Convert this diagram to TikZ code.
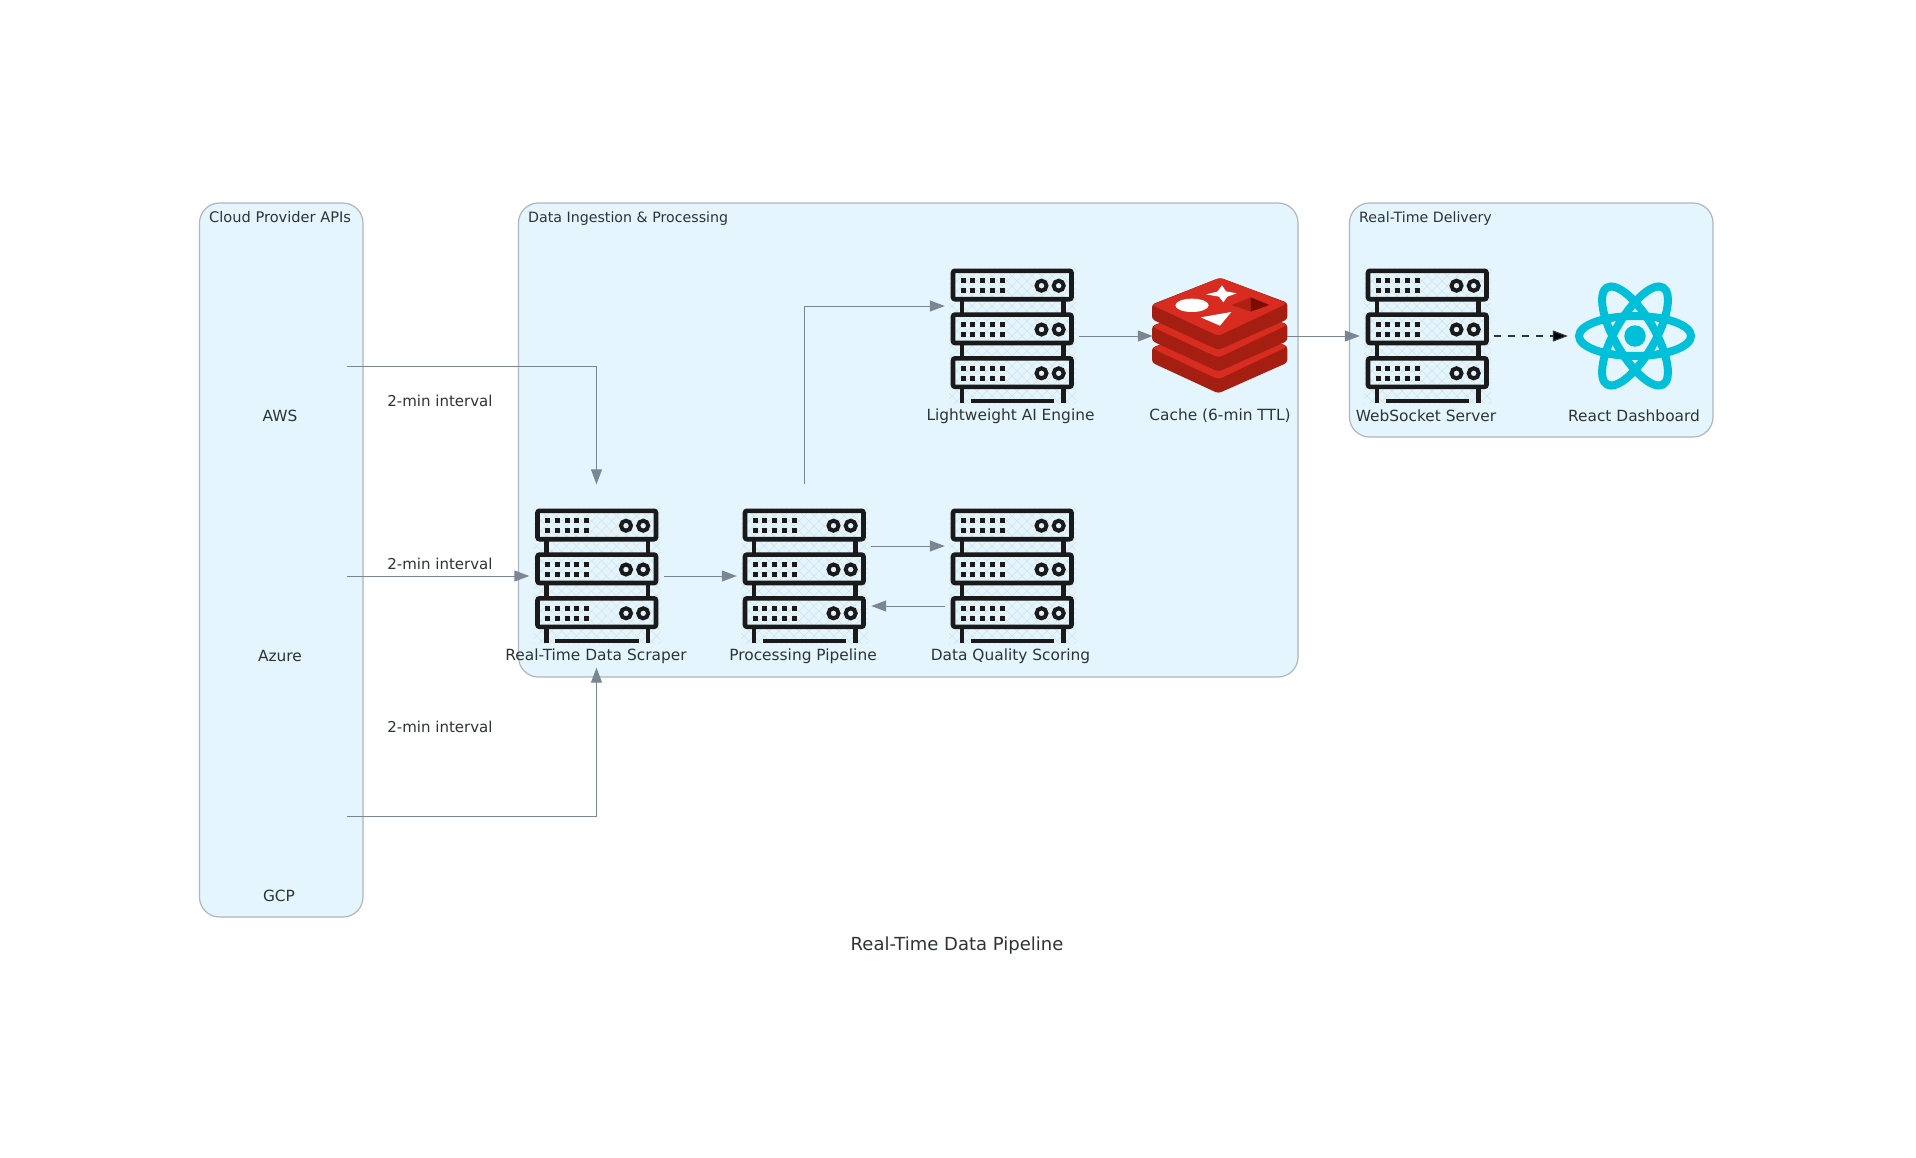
\documentclass[tikz,border=0pt]{standalone}
\usepackage{fontspec}
\setmainfont{DejaVu Sans}
\usetikzlibrary{arrows.meta,calc}
\definecolor{clusterfill}{HTML}{E5F5FD}
\definecolor{clusterline}{HTML}{AEB6BE}
\definecolor{edgecol}{HTML}{7B8694}
\definecolor{inkcol}{HTML}{2D3436}
\definecolor{iconink}{HTML}{1A1A1A}
\definecolor{hatchcol}{HTML}{D5E2EA}
\definecolor{redislight}{HTML}{D82C20}
\definecolor{redisdark}{HTML}{A41E11}
\definecolor{redismid}{HTML}{AD2115}
\definecolor{redisdeep}{HTML}{7A0C00}
\definecolor{reactcol}{HTML}{00BFD8}
\tikzset{
  x=1pt,y=-1pt,
  cluster/.style={draw=clusterline,fill=clusterfill,line width=1.2pt,rounded corners=20pt},
  clustertitle/.style={anchor=base west,inner sep=0pt,text=inkcol,font=\fontsize{14.2}{16}\selectfont},
  iconbox/.style={minimum width=134pt,minimum height=183pt,inner sep=0pt},
  caption/.style={inner sep=0pt,text=inkcol,font=\fontsize{15.4}{17}\selectfont},
  edgelabel/.style={inner sep=0pt,text=inkcol,font=\fontsize{15}{17}\selectfont},
  flow/.style={draw=edgecol,line width=1pt,-{Triangle[length=15pt,width=11pt,fill=edgecol]}},
  dashflow/.style={draw=inkcol,line width=1.2pt,dash pattern=on 7pt off 7pt,-{Triangle[length=15pt,width=11pt,fill=black]}},
  server/.pic={
    \begin{scope}
      \clip (-63,-68) rectangle (64,67);
      \foreach \k in {-200,-190,...,200}{
        \draw[hatchcol,line width=.5pt] (\k-70,-70) -- (\k+70,70);
        \draw[hatchcol,line width=.5pt] (\k+70,-70) -- (\k-70,70);
      }
    \end{scope}
    \foreach \d in {0,43.8,87.6}{
      \draw[iconink,line width=4.6pt,rounded corners=2pt] (-59,-65.2+\d) rectangle (59.5,-36.8+\d);
      \foreach \p in {-49,-39.3,-29.5,-19.6,-9.8}{
        \fill[iconink] (\p-2.5,-57.8+\d) rectangle (\p+2.5,-52.8+\d);
        \fill[iconink] (\p-2.5,-47.8+\d) rectangle (\p+2.5,-42.8+\d);
      }
      \draw[iconink,line width=4pt] (29.5,-50.3+\d) circle[radius=5pt];
      \draw[iconink,line width=4pt] (46.7,-50.3+\d) circle[radius=5pt];
    }
    \foreach \s in {-36.8,7,50.8}{
      \draw[iconink,line width=4.4pt] (-50,\s) -- (-50,\s+16);
      \draw[iconink,line width=4.4pt] (51.5,\s) -- (51.5,\s+16);
    }
    \fill[iconink] (-41.5,63) rectangle (42,66.8);
  },
  redislayer/.pic={
    \fill[redisdark,rounded corners=3pt] (66,133) -- (270,53) -- (472,128) -- (472,178) -- (265,270) -- (66,178) -- cycle;
    \fill[redislight,rounded corners=3.5pt] (66,135) -- (270,53) -- (472,130) -- (265,228) -- cycle;
  },
}
\begin{document}
\begin{tikzpicture}
\useasboundingbox (0,0) rectangle (1916,1157);
\fill[white] (0,0) rectangle (1916,1157);

% clusters
\draw[cluster] (199.5,203) rectangle (363,917);
\draw[cluster] (518.5,203) rectangle (1298,677);
\draw[cluster] (1349.5,203) rectangle (1713,437);
\node[clustertitle,font=\fontsize{14.6}{16}\selectfont] (tcloud) at (209,222.5) {Cloud Provider APIs};
\node[clustertitle] (tdata) at (528,222.5) {Data Ingestion \& Processing};
\node[clustertitle] (tdeliv) at (1359,222.5) {Real-Time Delivery};

% node boxes
\node[iconbox] (aws) at (280,336) {};
\node[iconbox] (azure) at (280,576) {};
\node[iconbox] (gcp) at (280,816) {};
\node[iconbox] (scraper) at (596.5,576) {};
\node[iconbox] (pipeline) at (804,576) {};
\node[iconbox] (quality) at (1012,576) {};
\node[iconbox] (ai) at (1012,336) {};
\node[iconbox] (cache) at (1220,336) {};
\node[iconbox] (ws) at (1427,336) {};
\node[iconbox] (react) at (1635,336) {};

% icons
\pic at (scraper) {server};
\pic at (pipeline) {server};
\pic at (quality) {server};
\pic at (ai) {server};
\pic at (ws) {server};

% redis
\begin{scope}[shift={(1130,260)},x=.3333pt,y=-.3333pt]
  \pic at (0,130) {redislayer};
  \pic at (0,65) {redislayer};
  \pic at (0,0) {redislayer};
  \fill[white] (186,136) ellipse[x radius=50pt/3,y radius=20pt/3];
  \fill[white] (276,76) -- (288,94) -- (320,100) -- (292,110) -- (280,127) -- (267,110) -- (228,103) -- (262,95) -- cycle;
  \fill[white] (212,172) -- (304,156) -- (270,197) -- cycle;
  \fill[redismid] (305,135) -- (362,112) -- (362,155) -- cycle;
  \fill[redisdeep] (362,112) -- (418,135) -- (362,155) -- cycle;
\end{scope}

% react
\begin{scope}[shift={(react.center)}]
  \foreach \a in {0,60,120}
    \draw[reactcol,line width=8pt,rotate=\a] (0,0) ellipse[x radius=56pt,y radius=20pt];
  \fill[reactcol] (0,0) circle[radius=10.7pt];
\end{scope}

% captions
\node[caption] (laws) at (280,416) {AWS};
\node[caption] (lazure) at (280,656) {Azure};
\node[caption] (lgcp) at (279,896) {GCP};
\node[caption] (lscraper) at (596,656) {Real-Time Data Scraper};
\node[caption] (lpipeline) at (803,656) {Processing Pipeline};
\node[caption] (lquality) at (1010.5,656) {Data Quality Scoring};
\node[caption] (lai) at (1010.5,416) {Lightweight AI Engine};
\node[caption] (lcache) at (1220,416) {Cache (6-min TTL)};
\node[caption] (lws) at (1426,416) {WebSocket Server};
\node[caption] (lreact) at (1634,416) {React Dashboard};

% edges
\draw[flow] ($(aws.east)+(0,30)$) -| (scraper.north);
\draw[flow] (azure.east) -- (scraper.west);
\draw[flow] (gcp.east) -| (scraper.south);
\draw[flow] (scraper.east) -- (pipeline.west);
\draw[flow] (pipeline.north) |- ($(ai.west)+(0,-30)$);
\draw[flow] ($(pipeline.east)+(0,-30)$) -- ($(quality.west)+(0,-30)$);
\draw[flow] ($(quality.west)+(0,30)$) -- ($(pipeline.east)+(0,30)$);
\draw[flow] (ai.east) -- (cache.west);
\draw[flow] (cache.east) -- (ws.west);
\draw[dashflow] (ws.east) -- (react.west);

% edge labels
\node[edgelabel] (e1) at (440,401) {2-min interval};
\node[edgelabel] (e2) at (440,564) {2-min interval};
\node[edgelabel] (e3) at (440,727) {2-min interval};

% title
\node[inner sep=0pt,text=inkcol,font=\fontsize{18}{21}\selectfont] (title) at (957,946) {Real-Time Data Pipeline};
\end{tikzpicture}
\end{document}
